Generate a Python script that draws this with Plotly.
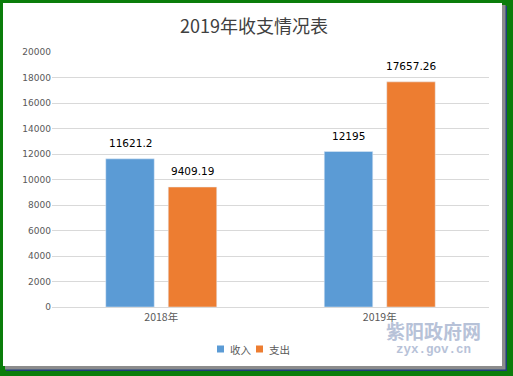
import plotly.graph_objects as go

categories = ["2018年", "2019年"]
series_names = ["收入", "支出"]
income = [11621.2, 12195]
expense = [9409.19, 17657.26]
income_labels = ["11621.2", "12195"]
expense_labels = ["9409.19", "17657.26"]
y_ticks = list(range(0, 20001, 2000))
colors = ["#5B9BD5", "#ED7D31"]

W, H = 513, 376
ml, mr, mt, mb = 52, 24, 52, 69
pw, ph = W - ml - mr, H - mt - mb

def px(x):
    return (x - ml) / pw

def py(y):
    return 1 - (y - mt) / ph

fig = go.Figure()
fig.add_trace(go.Bar(name=series_names[0], x=categories, y=income, marker_color=colors[0]))
fig.add_trace(go.Bar(name=series_names[1], x=categories, y=expense, marker_color=colors[1]))

annotations = []
for vals, labels, shift in [(income, income_labels, -31), (expense, expense_labels, 31)]:
    for c, v, t in zip(categories, vals, labels):
        annotations.append(dict(x=c, y=v, text=t, showarrow=False, xref="x", yref="y",
                                xshift=shift, yshift=8, xanchor="center", yanchor="bottom",
                                font=dict(size=10.5, color="#000000", family="DejaVu Sans")))

annotations.append(dict(x=px(254), y=py(25), xref="paper", yref="paper", text="2019年收支情况表",
                        xanchor="center", yanchor="middle", showarrow=False,
                        font=dict(size=18, color="#404040", family="Noto Sans CJK SC")))

legend_x = [217, 256]
for name, col, lx in zip(series_names, colors, legend_x):
    annotations.append(dict(x=px(lx + 11), y=py(349), xref="paper", yref="paper", text=name,
                            xanchor="left", yanchor="middle", showarrow=False,
                            font=dict(size=10.5, color="#595959", family="Noto Sans CJK SC")))

annotations.append(dict(x=px(433), y=py(330), xref="paper", yref="paper", text="<b>紫阳政府网</b>",
                        xanchor="center", yanchor="middle", showarrow=False,
                        font=dict(size=19, color="#B7C2D8", family="Noto Sans CJK SC")))
annotations.append(dict(x=px(433), y=py(350), xref="paper", yref="paper", text="<b>zyx.gov.cn</b>",
                        xanchor="center", yanchor="middle", showarrow=False,
                        font=dict(size=12.5, color="#B7C2D8", family="Liberation Mono")))

green = "#0B7D0B"
shapes = [
    dict(type="rect", xref="paper", yref="paper", x0=px(6), x1=px(507), y0=py(371), y1=py(6),
         fillcolor="#1F3F7A", line_width=0, layer="below"),
    dict(type="rect", xref="paper", yref="paper", x0=px(5), x1=px(505.5), y0=py(369.5), y1=py(5),
         fillcolor="#8C8C8C", line_width=0, layer="below"),
    dict(type="rect", xref="paper", yref="paper", x0=px(3), x1=px(502), y0=py(366), y1=py(3),
         fillcolor="#FFFFFF", line_width=0, layer="below"),
]
for col, lx in zip(colors, legend_x):
    shapes.append(dict(type="rect", xref="paper", yref="paper", x0=px(lx), x1=px(lx + 7),
                       y0=py(352.5), y1=py(345.5), fillcolor=col, line_width=0))

fig.update_layout(
    width=W, height=H,
    margin=dict(l=ml, r=mr, t=mt, b=mb, autoexpand=False),
    paper_bgcolor=green, plot_bgcolor="rgba(0,0,0,0)",
    barmode="group", bargap=0.428, bargroupgap=0.224,
    font=dict(family="DejaVu Sans", size=9, color="#595959"),
    showlegend=False,
    annotations=annotations,
    shapes=shapes,
)
fig.update_yaxes(range=[0, 20000], tickvals=y_ticks, ticktext=[str(v) for v in y_ticks],
                 showgrid=True, gridcolor="#D9D9D9", gridwidth=1, zeroline=False,
                 showline=False, ticks="", ticklen=0, tickfont=dict(size=9, color="#595959"),
                 automargin=False)
fig.update_xaxes(showline=True, linecolor="#D9D9D9", linewidth=1, ticks="", automargin=False,
                 tickfont=dict(size=10.5, color="#595959", family="Noto Sans CJK SC"))

fig.write_html("out.html", config={"displayModeBar": False},
               post_script="document.body.style.margin='0px';document.body.style.overflow='hidden';")
